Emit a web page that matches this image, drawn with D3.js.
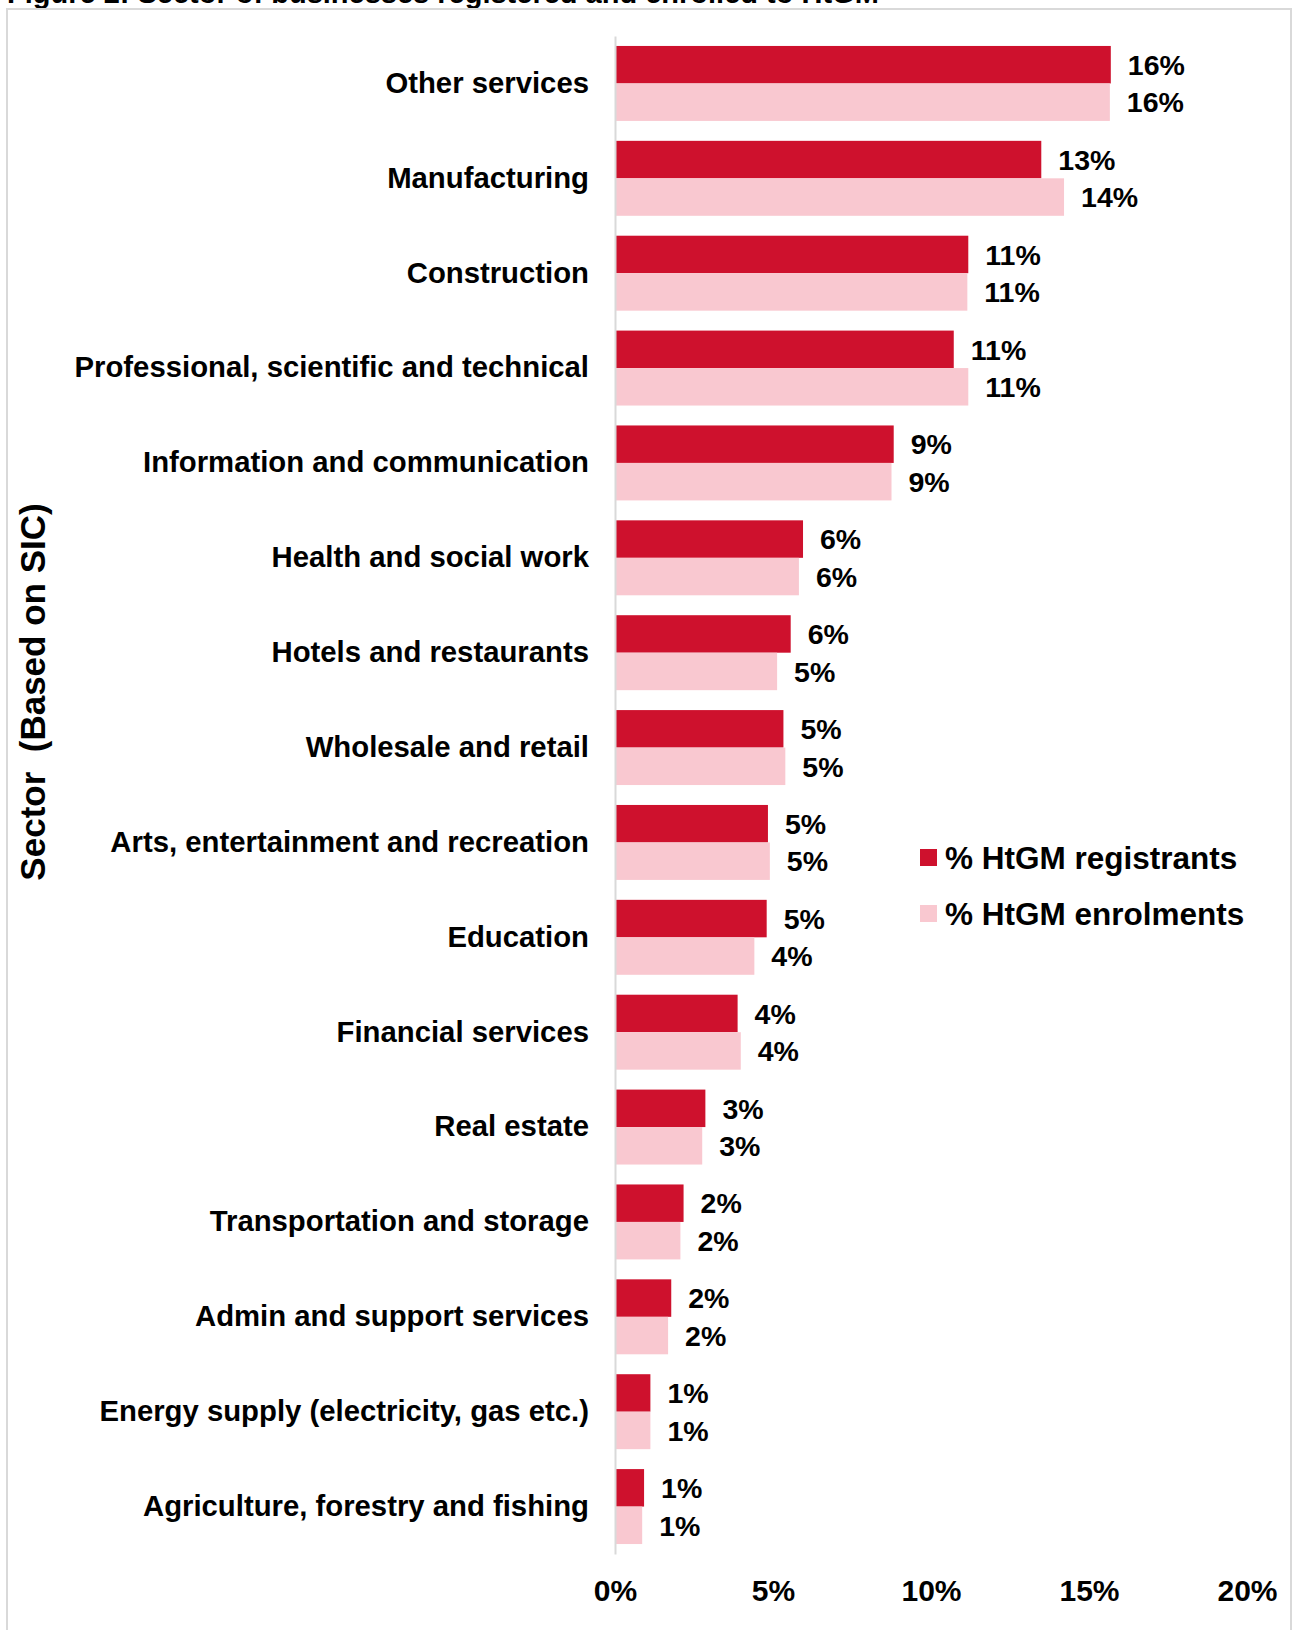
<!DOCTYPE html>
<html>
<head>
<meta charset="utf-8">
<script src="https://cdn.jsdelivr.net/npm/d3@7"></script>
<style>
  html, body { margin: 0; padding: 0; background: #fff; }
  svg { display: block; font-family: "Liberation Sans", Arial, sans-serif; font-weight: bold; }
</style>
</head>
<body>
<svg id="chart" width="1296" height="1630"></svg>
<script>
// Sectors, top to bottom
const sectors = [
  "Other services",
  "Manufacturing",
  "Construction",
  "Professional, scientific and technical",
  "Information and communication",
  "Health and social work",
  "Hotels and restaurants",
  "Wholesale and retail",
  "Arts, entertainment and recreation",
  "Education",
  "Financial services",
  "Real estate",
  "Transportation and storage",
  "Admin and support services",
  "Energy supply (electricity, gas etc.)",
  "Agriculture, forestry and fishing"
];

// Share of HtGM registrants by sector
const registrants = [0.1569, 0.1349, 0.1118, 0.1072, 0.0882, 0.0595, 0.0556, 0.0533,
                     0.0484, 0.0480, 0.0388, 0.0286, 0.0217, 0.0178, 0.0112, 0.0092];

// Share of HtGM enrolments by sector
const enrolments  = [0.1566, 0.1421, 0.1115, 0.1118, 0.0875, 0.0582, 0.0513, 0.0539,
                     0.0490, 0.0441, 0.0398, 0.0276, 0.0207, 0.0168, 0.0112, 0.0086];

const seriesNames = ["% HtGM registrants", "% HtGM enrolments"];
const xTicks = [0, 0.05, 0.10, 0.15, 0.20];

const title = "Figure 2: Sector of businesses registered and enrolled to HtGM";
const yTitle = "Sector  (Based on SIC)";

const colors = ["#ce112d", "#f9c8d0"];

const svg = d3.select("#chart");
const pct = d3.format(".0%");

// Figure caption above the frame
svg.append("text")
  .attr("x", 7).attr("y", 3)
  .attr("font-size", 29)
  .attr("fill", "#000")
  .text(title);

// Chart frame
svg.append("rect")
  .attr("x", 7).attr("y", 9)
  .attr("width", 1284).attr("height", 1640)
  .attr("fill", "none")
  .attr("stroke", "#d9d9d9")
  .attr("stroke-width", 2);

const x = d3.scaleLinear().domain([0, 0.20]).range([615, 1247]);
const y = d3.scaleBand().domain(sectors).range([36, 1554]).paddingInner(0.21).paddingOuter(0.105);
const sub = d3.scaleBand().domain(seriesNames).range([0, y.bandwidth()]);

const rows = sectors.map((s, i) => ({
  sector: s,
  values: [
    { series: seriesNames[0], value: registrants[i], color: colors[0] },
    { series: seriesNames[1], value: enrolments[i], color: colors[1] }
  ]
}));

// Bars and value labels
const groups = svg.append("g").selectAll("g")
  .data(rows).join("g")
  .attr("transform", d => `translate(0,${y(d.sector)})`);

groups.selectAll("rect")
  .data(d => d.values).join("rect")
  .attr("x", x(0))
  .attr("y", d => sub(d.series))
  .attr("width", d => x(d.value) - x(0))
  .attr("height", sub.bandwidth())
  .attr("fill", d => d.color);

groups.selectAll("text")
  .data(d => d.values).join("text")
  .attr("x", d => x(d.value) + 17)
  .attr("y", d => sub(d.series) + sub.bandwidth() / 2)
  .attr("dy", "0.36em")
  .attr("font-size", 28.5)
  .attr("fill", "#000")
  .text(d => pct(d.value));

// Category axis
const yAxis = svg.append("g")
  .attr("transform", `translate(${x(0)},0)`)
  .call(d3.axisLeft(y).tickSize(0).tickPadding(26));
yAxis.select(".domain").attr("stroke", "#d9d9d9").attr("stroke-width", 2);
yAxis.selectAll("text")
  .attr("font-size", 29.3)
  .attr("font-family", "Liberation Sans, Arial, sans-serif")
  .attr("font-weight", "bold")
  .attr("fill", "#000");

// Value axis (labels only)
const xAxis = svg.append("g")
  .attr("transform", "translate(0,1554)")
  .call(d3.axisBottom(x).tickValues(xTicks).tickFormat(pct).tickSize(0).tickPadding(26));
xAxis.select(".domain").remove();
xAxis.selectAll("text")
  .attr("font-size", 30)
  .attr("font-family", "Liberation Sans, Arial, sans-serif")
  .attr("font-weight", "bold")
  .attr("fill", "#000");

// Axis title
svg.append("text")
  .attr("transform", "translate(45,692) rotate(-90)")
  .attr("text-anchor", "middle")
  .attr("font-size", 35)
  .attr("fill", "#000")
  .style("white-space", "pre")
  .text(yTitle);

// Legend
const legend = svg.append("g").selectAll("g")
  .data(seriesNames).join("g")
  .attr("transform", (d, i) => `translate(920,${849 + i * 56})`);
legend.append("rect")
  .attr("width", 17).attr("height", 17)
  .attr("fill", (d, i) => colors[i]);
legend.append("text")
  .attr("x", 25).attr("y", 19.5)
  .attr("font-size", 31.5)
  .attr("fill", "#000")
  .text(d => d);
</script>
</body>
</html>
